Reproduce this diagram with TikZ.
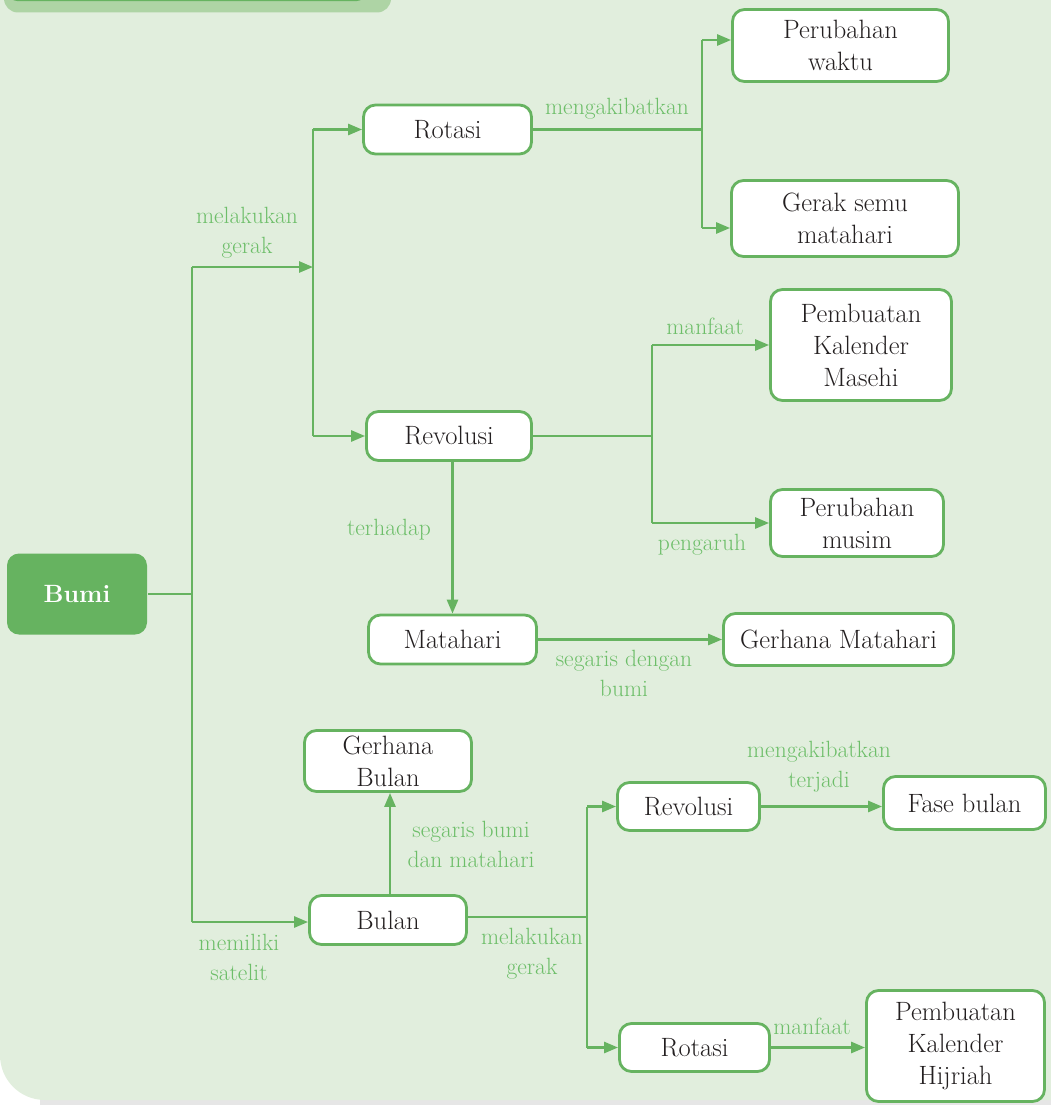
\documentclass[tikz,border=0pt]{standalone}
\usetikzlibrary{arrows.meta}
\definecolor{bg}{HTML}{E1EEDD}
\definecolor{gr}{HTML}{66B360}
\definecolor{lbl}{HTML}{6DBE69}
\definecolor{tabc}{HTML}{AED4A5}
\definecolor{txt}{HTML}{231F20}
\definecolor{shadowc}{HTML}{E6E6E6}
\begin{document}
\begin{tikzpicture}[x=1pt,y=-1pt,
  box/.style={draw=gr, line width=2.8pt, fill=white, rounded corners=12pt, text=txt,
    font=\fontsize{26.5}{32}\selectfont, align=center, inner sep=0pt},
  conn/.style={draw=gr, line width=2.6pt},
  arr/.style={conn, -{Triangle[length=14pt,width=11pt]}},
  lab/.style={text=lbl, font=\fontsize{23.5}{30}\selectfont, align=center, inner sep=0pt}]
\useasboundingbox (0,0) rectangle (1051,1105);
\begin{scope}
\clip (0,0) rectangle (1051,1105);
\fill[shadowc] (40,1095) rectangle (1051,1105);
\fill[bg] (0,0) -- (1051,0) -- (1051,1100) -- (45,1100) .. controls (20,1100) and (0,1080) .. (0,1055) -- cycle;
\fill[tabc, rounded corners=14pt] (4,-40) rectangle (391,12.5);
\fill[gr, rounded corners=10pt] (8,-40) rectangle (366,1.2);
\end{scope}

% nodes
\node[box, fill=gr, draw=none, text=white, font=\fontsize{25}{32}\selectfont\bfseries,
  minimum width=140pt, minimum height=81pt] (bumi) at (77,594) {Bumi};
\node[box, minimum width=168pt, minimum height=49pt] (rot1) at (447.5,129.5) {Rotasi};
\node[box, minimum width=216pt, minimum height=72pt] (pw) at (840.5,45.5) {Perubahan\\waktu};
\node[box, minimum width=227pt, minimum height=76pt] (gs) at (845,218.5) {Gerak semu\\matahari};
\node[box, minimum width=181pt, minimum height=111pt] (pkm) at (861,345) {Pembuatan\\Kalender\\Masehi};
\node[box, minimum width=165pt, minimum height=49pt] (rev1) at (449,436) {Revolusi};
\node[box, minimum width=173pt, minimum height=67pt] (pm) at (857,523) {Perubahan\\musim};
\node[box, minimum width=168pt, minimum height=49pt] (mat) at (452.5,639.5) {Matahari};
\node[box, minimum width=230pt, minimum height=52pt] (gm) at (838.5,639.5) {Gerhana Matahari};
\node[box, minimum width=167pt, minimum height=61pt] (gb) at (388,761) {Gerhana\\Bulan};
\node[box, minimum width=142pt, minimum height=48pt] (rev2) at (688.5,806.5) {Revolusi};
\node[box, minimum width=162pt, minimum height=53pt] (fb) at (964.5,803) {Fase bulan};
\node[box, minimum width=157pt, minimum height=49pt] (bulan) at (388,920) {Bulan};
\node[box, minimum width=150pt, minimum height=48pt] (rot2) at (694.5,1047.5) {Rotasi};
\node[box, minimum width=178pt, minimum height=111pt] (pkh) at (955.5,1046) {Pembuatan\\Kalender\\Hijriah};

% junction coordinates
\coordinate (t1) at (192,267);
\coordinate (t2) at (192,922);
\coordinate (g1) at (313,267);
\coordinate (g2) at (702,129);
\coordinate (g3) at (652,435);
\coordinate (g4) at (587,917);

% connectors
\draw[conn] (bumi.east) -- (bumi.east -| t1);
\draw[conn] (t1) -- (t2);
\draw[arr] (t1) -- (g1);
\draw[conn] (rot1.west -| g1) -- (rev1.west -| g1);
\draw[arr] (rot1.west -| g1) -- (rot1.west);
\draw[arr] (rev1.west -| g1) -- (rev1.west);

\draw[conn] (rot1.east) -- (rot1.east -| g2);
\draw[conn] ([yshift=5.5pt]pw.west -| g2) -- ([yshift=-9.5pt]gs.west -| g2);
\draw[arr] ([yshift=5.5pt]pw.west -| g2) -- ([yshift=5.5pt]pw.west);
\draw[arr] ([yshift=-9.5pt]gs.west -| g2) -- ([yshift=-9.5pt]gs.west);

\draw[conn] (rev1.east) -- (rev1.east -| g3);
\draw[conn] (pkm.west -| g3) -- (pm.west -| g3);
\draw[arr] (pkm.west -| g3) -- (pkm.west);
\draw[arr] (pm.west -| g3) -- (pm.west);

\draw[arr] (mat.north |- rev1.south) -- (mat.north);
\draw[arr] (mat.east) -- (mat.east -| gm.west);

\draw[arr] (t2) -- (t2 -| bulan.west);
\draw[arr] ([xshift=2pt]bulan.north) -- ([xshift=2pt]bulan.north |- gb.south);
\draw[conn] (bulan.east |- g4) -- (g4);
\draw[conn] (rev2.west -| g4) -- (rot2.west -| g4);
\draw[arr] (rev2.west -| g4) -- (rev2.west);
\draw[arr] (rot2.west -| g4) -- (rot2.west);
\draw[arr] (rev2.east) -- (rev2.east -| fb.west);
\draw[arr] (rot2.east) -- (rot2.east -| pkh.west);

% labels
\node[lab] (l1) at (617,109) {mengakibatkan};
\node[lab] (l2) at (247,233) {melakukan\\gerak};
\node[lab] (l3) at (705,326) {manfaat};
\node[lab] (l4) at (702,545) {pengaruh};
\node[lab] (l5) at (389,530) {terhadap};
\node[lab] (l6) at (624,673) {segaris dengan\\bumi};
\node[lab] (l7) at (239,957) {memiliki\\satelit};
\node[lab] (l8) at (471,844) {segaris bumi\\dan matahari};
\node[lab] (l9) at (532,954) {melakukan\\gerak};
\node[lab] (l10) at (819,767) {mengakibatkan\\terjadi};
\node[lab] (l11) at (812,1026) {manfaat};
\end{tikzpicture}
\end{document}
